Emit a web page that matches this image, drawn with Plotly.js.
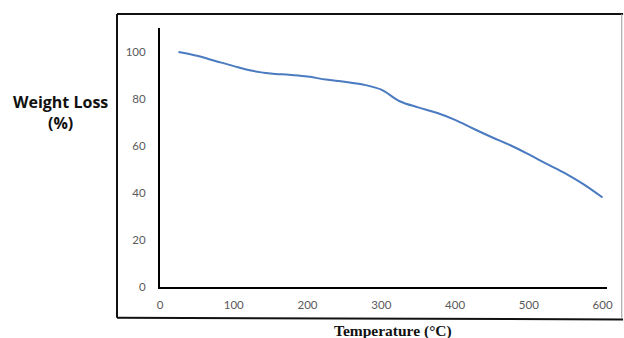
<!DOCTYPE html>
<html>
<head>
<meta charset="utf-8">
<script src="https://cdn.plot.ly/plotly-3.0.1.min.js"></script>
<style>html,body{margin:0;padding:0;background:#fff;}#chart{width:624px;height:338px;}</style>
</head>
<body>
<div id="chart"></div>
<script>
var temperature = [25, 50, 75, 100, 125, 150, 175, 200, 225, 250, 275, 300, 325, 350, 375, 400, 425, 450, 475, 500, 525, 550, 575, 600];
var weightLoss = [99.8, 98.2, 96.0, 93.8, 91.8, 90.7, 90.1, 89.4, 88.1, 87.2, 86.0, 83.8, 78.9, 76.3, 74.0, 71.0, 67.2, 63.6, 60.2, 56.3, 52.2, 48.2, 43.5, 38.0];
var xTicks = [0, 100, 200, 300, 400, 500, 600];
var yTicks = [0, 20, 40, 60, 80, 100];

var trace = {
  x: temperature,
  y: weightLoss,
  type: 'scatter',
  mode: 'lines',
  line: {color: '#4a7ac0', width: 2, shape: 'spline', smoothing: 1},
  hoverinfo: 'skip'
};

var tickFont = {family: 'Lato, "Open Sans", sans-serif', size: 11.5, color: '#595959'};

var layout = {
  width: 624,
  height: 338,
  margin: {l: 160, r: 17, t: 28, b: 51},
  paper_bgcolor: '#ffffff',
  plot_bgcolor: '#ffffff',
  showlegend: false,
  xaxis: {
    range: [0, 606],
    tickvals: xTicks,
    ticktext: xTicks.map(String),
    showgrid: false,
    zeroline: false,
    showline: true,
    linecolor: '#000000',
    linewidth: 2,
    ticks: '',
    ticklabelstandoff: 6,
    tickfont: tickFont,
    fixedrange: true
  },
  yaxis: {
    range: [0, 110],
    tickvals: yTicks,
    ticktext: yTicks.map(String),
    showgrid: false,
    zeroline: false,
    showline: true,
    linecolor: '#000000',
    linewidth: 2,
    ticks: '',
    ticklabelstandoff: 10,
    tickfont: tickFont,
    fixedrange: true
  },
  shapes: [
    {type: 'line', xref: 'paper', yref: 'paper', x0: -0.0962, x1: 1.036, y0: 1.054, y1: 1.054, line: {color: '#111111', width: 2}},
    {type: 'line', xref: 'paper', yref: 'paper', x0: -0.0962, x1: -0.0962, y0: 1.054, y1: -0.119, line: {color: '#111111', width: 2}},
    {type: 'line', xref: 'paper', yref: 'paper', x0: -0.0962, x1: 1.036, y0: -0.119, y1: -0.125, line: {color: '#111111', width: 2}},
    {type: 'line', xref: 'paper', yref: 'paper', x0: 1.033, x1: 1.033, y0: 1.054, y1: -0.119, line: {color: '#999999', width: 1}}
  ],
  annotations: [
    {
      text: '<b>Weight Loss</b><br><b>(%)</b>',
      xref: 'paper', yref: 'paper',
      x: (60 - 160) / 447, y: (287 - 112) / 259,
      xanchor: 'center', yanchor: 'middle',
      showarrow: false, align: 'center',
      font: {family: '"Open Sans", "Liberation Sans", sans-serif', size: 16, color: '#111111'}
    },
    {
      text: '<b>Temperature (°C)</b>',
      xref: 'paper', yref: 'paper',
      x: (393 - 160) / 447, y: (287 - 320) / 259,
      xanchor: 'center', yanchor: 'top',
      showarrow: false,
      font: {family: '"Liberation Serif", "DejaVu Serif", serif', size: 15.5, color: '#111111'}
    }
  ]
};

Plotly.newPlot('chart', [trace], layout, {staticPlot: true, displayModeBar: false});
</script>
</body>
</html>
